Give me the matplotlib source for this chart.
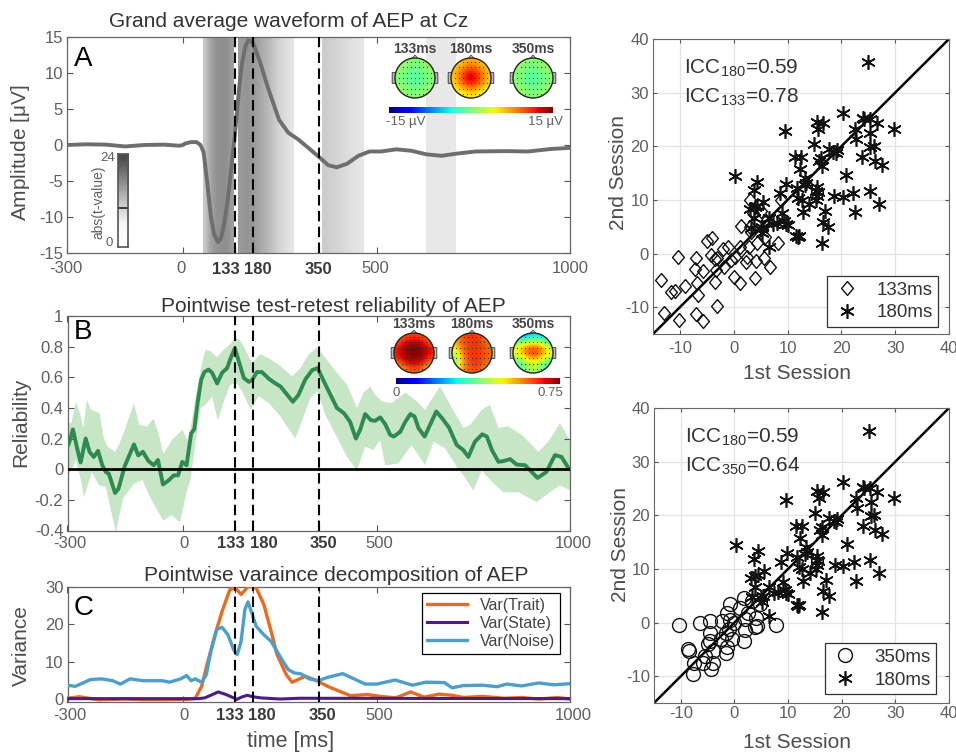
import numpy as np
import matplotlib
matplotlib.use('Agg')
import matplotlib.pyplot as plt
from matplotlib.patches import Circle, Polygon, FancyBboxPatch

plt.rcParams['font.family'] = ['Liberation Sans', 'DejaVu Sans']
plt.rcParams['mathtext.default'] = 'regular'
plt.rcParams['mathtext.fontset'] = 'custom'
plt.rcParams['mathtext.rm'] = 'Liberation Sans'
plt.rcParams['mathtext.it'] = 'Liberation Sans:italic'

W, H = 956, 752
TXT = '#4d4d4d'
TICK = '#5f5f5f'

# Panel A waveform
amp_t = [-300, -250, -200, -150, -100, -50, -10, 0, 5, 20, 35, 45, 53, 62, 72, 80, 90, 98, 106, 114, 121, 134, 145, 152,
         160, 168, 175, 182, 199, 219, 248, 272, 297, 326, 352, 375, 397, 424, 453, 482, 512, 551, 590, 629, 668, 707,
         756, 834, 892, 951, 1000]
amp_v = [0.0, 0.1, 0.05, -0.2, 0.0, 0.05, -0.1, 0.0, 0.2, 0.4, 0.4, 0.0, -1.0, -5.0, -10.0, -12.4, -13.5, -12.9, -11.0,
         -8.2, -5.0, 1.5, 8.0, 11.2, 13.5, 14.5, 14.5, 14.0, 11.5, 8.0, 3.5, 1.7, 0.8, -0.5, -1.7, -2.8, -3.1, -2.6,
         -1.5, -0.9, -0.9, -0.6, -0.8, -1.3, -1.5, -1.2, -0.9, -0.85, -0.9, -0.55, -0.4]

# gray bands, t start, t end, gray levels
band_edges = [(51, 131), (143, 287), (360, 466), (629, 704)]
band_grays = [[0.78, 0.70, 0.63, 0.59, 0.57, 0.56, 0.56, 0.58, 0.62],
              [0.60, 0.58, 0.60, 0.65, 0.70, 0.76, 0.82, 0.86, 0.90],
              [0.80, 0.82, 0.84, 0.86, 0.88, 0.90],
              [0.91, 0.91]]
tbar_grays = [0.30, 0.40, 0.50, 0.60, 0.70, 0.80, 0.88, 0.97, 0.98, 0.99]

# Panel B reliability
rel_t = [-300, -296, -286, -274, -266, -253, -243, -232, -221, -210, -201, -193, -177, -168, -152, -128, -117, -105,
         -91, -77, -66, -53, -38, -25, -14, -3, 8, 20, 28, 37, 46, 54, 65, 74, 87, 100, 113, 121, 133, 143, 156, 169,
         177, 190, 203, 221, 238, 251, 268, 283, 298, 315, 333, 347, 363, 380, 397, 415, 431, 446, 457, 470, 485, 496,
         509, 522, 535, 544, 561, 574, 587, 598, 608, 624, 638, 654, 669, 687, 707, 724, 737, 754, 773, 785, 798, 815,
         828, 845, 862, 884, 901, 916, 939, 961, 978, 997, 1000]
rel_v = [0.15, 0.17, 0.26, 0.125, 0.044, 0.20, 0.114, 0.08, 0.12, 0.026, -0.018, -0.03, -0.155, -0.127, 0.02, 0.162,
         0.09, 0.114, 0.055, 0.026, 0.06, -0.10, -0.072, -0.04, -0.04, 0.048, 0.026, 0.235, 0.26, 0.44, 0.585, 0.634,
         0.65, 0.63, 0.56, 0.63, 0.66, 0.717, 0.79, 0.706, 0.596, 0.57, 0.58, 0.634, 0.634, 0.59, 0.56, 0.54, 0.487,
         0.44, 0.487, 0.585, 0.647, 0.66, 0.575, 0.487, 0.40, 0.366, 0.31, 0.20, 0.257, 0.36, 0.32, 0.316, 0.338, 0.294,
         0.224, 0.213, 0.245, 0.31, 0.36, 0.344, 0.268, 0.213, 0.29, 0.377, 0.333, 0.272, 0.158, 0.125, 0.08, 0.18,
         0.228, 0.213, 0.125, 0.048, 0.053, 0.066, 0.03, 0.026, -0.018, -0.057, -0.018, 0.092, 0.08, 0.004, 0.0]
rel_up_t = [-300, -290, -278, -268, -259, -250, -240, -217, -207, -197, -177, -165, -152, -128, -115, -94, -77, -65,
            -52, -30, -3, 10, 18, 30, 46, 57, 70, 87, 104, 121, 134, 147, 160, 177, 199, 225, 251, 281, 303, 324, 347,
            367, 393, 423, 449, 466, 483, 496, 513, 539, 574, 604, 625, 664, 690, 724, 742, 772, 793, 815, 841, 875,
            918, 944, 974, 1000]
rel_up_v = [0.30, 0.30, 0.44, 0.366, 0.267, 0.454, 0.39, 0.366, 0.21, 0.147, 0.114, 0.17, 0.257, 0.43, 0.29, 0.28, 0.33,
            0.235, 0.10, 0.19, 0.257, 0.19, 0.26, 0.45, 0.67, 0.78, 0.77, 0.73, 0.78, 0.816, 0.86, 0.84, 0.78, 0.695,
            0.75, 0.717, 0.673, 0.607, 0.66, 0.75, 0.794, 0.728, 0.64, 0.553, 0.40, 0.50, 0.54, 0.487, 0.443, 0.432,
            0.50, 0.443, 0.388, 0.54, 0.42, 0.27, 0.29, 0.388, 0.42, 0.27, 0.28, 0.224, 0.114, 0.18, 0.30, 0.19]
rel_lo_t = [-300, -290, -278, -268, -257, -237, -219, -201, -175, -156, -128, -106, -89, -72, -52, -30, -9, 8, 18, 31,
            44, 57, 74, 89, 104, 121, 139, 156, 173, 195, 221, 251, 289, 306, 328, 347, 367, 397, 423, 449, 470, 491,
            509, 522, 556, 590, 625, 647, 677, 707, 724, 750, 772, 798, 828, 867, 914, 948, 974, 1000]
rel_lo_v = [-0.05, -0.007, 0.06, -0.04, -0.18, -0.018, -0.105, -0.116, -0.41, -0.19, -0.094, -0.07, -0.17, -0.25, -0.335,
            -0.30, -0.346, -0.15, -0.07, 0.17, 0.40, 0.42, 0.476, 0.32, 0.44, 0.55, 0.56, 0.487, 0.39, 0.476, 0.43,
            0.344, 0.20, 0.31, 0.465, 0.51, 0.355, 0.21, 0.08, -0.007, 0.147, 0.125, 0.19, 0.026, 0.037, 0.158, 0.026,
            0.18, 0.136, 0.015, -0.04, -0.138, -0.007, -0.083, -0.15, -0.15, -0.215, -0.15, -0.105, -0.138]

# Panel C variance
noise_t = [-300, -280, -260, -241, -212, -183, -163, -138, -104, -55, -36, -7, 8, 20, 30, 47, 59, 71, 86, 100, 115, 130,
           139, 149, 159, 167, 177, 188, 208, 227, 252, 271, 286, 305, 325, 349, 373, 412, 441, 470, 500, 548, 592, 627,
           675, 695, 724, 773, 812, 836, 875, 919, 958, 1000]
noise_v = [3.7, 3.4, 4.3, 5.2, 5.4, 4.9, 4.0, 5.4, 4.9, 4.9, 4.5, 5.4, 6.3, 4.9, 5.4, 4.5, 6.5, 12.8, 18.6, 19.2, 17.2,
           13.2, 11.9, 15.4, 24.0, 26.0, 23.0, 19.5, 17.2, 15.4, 11.0, 7.9, 7.0, 6.7, 5.4, 4.9, 5.8, 6.8, 5.4, 4.0, 4.0,
           5.1, 3.7, 4.5, 4.4, 3.0, 3.6, 3.7, 3.3, 4.0, 3.5, 4.3, 3.8, 4.1]
trait_t = [-300, -270, -250, -220, -150, -100, -50, 10, 30, 47, 61, 81, 100, 120, 134, 149, 168, 188, 208, 227, 242, 266,
           281, 296, 315, 345, 373, 403, 432, 475, 510, 549, 588, 622, 661, 695, 724, 773, 831, 875, 919, 968, 1000]
trait_v = [0.2, 0.6, 0.3, -0.2, 0.0, -0.2, -0.2, -0.1, 0.1, 3.4, 9.2, 17.0, 23.5, 29.3, 29.8, 28.0, 30.2, 29.8, 25.3,
           18.0, 11.9, 6.5, 4.5, 5.2, 6.1, 4.9, 3.4, 2.1, 0.9, 1.2, 0.7, 0.3, 1.9, 0.5, 1.3, 1.0, 0.4, 0.7, 0.2, 0.4,
           0.0, 0.4, 0.0]
state_t = [-300, 40, 55, 75, 90, 110, 130, 138, 150, 165, 180, 200, 250, 300, 1000]
state_v = [0.1, 0.1, 0.3, 1.2, 1.9, 1.2, 0.3, -0.1, 0.5, 1.0, 0.6, 0.3, 0.0, 0.2, 0.1]

# Scatter data
s180_x = [25, 20.3, 24, 25.3, 24.2, 26.6, 15.4, 16.6, 15.7, 29.7, 9.6, 22.6, 25.4, 22.8, 15, 25.4, 26, 17.7, 19.2, 18.5,
          19, 11.4, 12.5, 16.3, 23.9, 15.9, 16.4, 26.2, 27.6, 12.3, 20.9, 0.3, 4.3, 13.3, 13.5, 13.2, 9.8, 3.7, 15.4,
          11.7, 15.3, 15.6, 15.4, 18.7, 20.3, 22.2, 25.3, 8.6, 12, 12.6, 15.2, 14, 27, 3.1, 3.9, 4.4, 5.5, 12.8, 17,
          22.6, 9, 3.8, 6.5, 9.4, 9.7, 10, 8.1, 7.3, 16.6, 17.6, 5.3, 5, 3.3, 5.2, 11.6, 12.1, 11.9, 16.4, 6.5]
s180_y = [35.8, 26.2, 25.3, 25.1, 25, 24.3, 24.6, 24.4, 23.2, 23.2, 22.8, 23.3, 22.4, 21.4, 20.4, 19.9, 20.1, 19.5, 19.3,
          18.9, 18.8, 18, 18, 17.8, 18, 17.2, 16.3, 17.2, 16.5, 15.7, 14.6, 14.4, 13.3, 14, 13.2, 12.7, 13, 11.8, 12.5,
          12.2, 11.7, 11.5, 10.8, 10.7, 10.5, 11.3, 11.6, 11.2, 10.4, 9.9, 10, 9.2, 9.2, 8.3, 8.6, 8.9, 9.7, 7.8, 7.9,
          7.8, 7.5, 6.6, 6.7, 6, 5.6, 5.3, 5.7, 5.5, 5.8, 4.9, 5, 4.5, 4.7, 3.9, 3.2, 3.2, 3, 1.9, 1.3]
s133_x = [-10.3, -7.1, -13.6, -11.7, -10.9, -9, -13, -10.1, -7, -5.8, -3.2, -6.6, -6.9, -7.2, -5.8, -4.9, -4, -3.4,
          -3.2, -3.5, -3.3, -2, -1.8, -1, -0.5, 0.2, 0, 1.2, 1.1, 1.3, 2.3, 2.5, 4, 4.2, 4.3, 5.7, 6.8, 8.3, 5.9, 2.8,
          3.1, 8.7, 3.5, 3.2, 5, 6, 3, -4.3]
s133_y = [-0.6, -0.9, -5, -7.2, -7, -6, -11, -12.4, -11.2, -12.5, -9.8, -7.8, -5.5, -2.8, -3.3, 2.3, 2.9, -1, -0.8,
          -5.3, -3, 0.8, -2.5, 1.2, -1.2, -0.6, -4.4, -5.5, 1.2, 5.2, -1.5, -0.6, -4.6, -1.3, 1.9, -0.8, -2.6, 2, 3, 1.3,
          10, 10, 7.5, 4, 8, 6, 5, -0.2]
s350_x = [-10.4, -8.6, -8.5, -6.5, -4.5, -2.3, -1.4, -0.8, 1.8, 3.3, 4.8, 1, 2.5, 2, 4, 4.2, 3.8, 7.7, 2, 1.8, -0.5, -1,
          -1.5, 0, -0.9, -1.4, -1.5, -4.5, -4.5, -5, -4, -5.5, -4.4, -4, -5.8, -7.7, -7.5, -2.5]
s350_y = [-0.4, -5, -5.3, -0.1, 0.3, 0.2, 1.8, 3.5, 4.5, 4, 3.5, 2.8, 1.8, 0.7, 0.9, -0.7, -0.9, -0.5, -1.3, -3.4, -3,
          -1.2, -2, 0, 0.5, -4.5, -5.7, -2, -3.5, -4, -5.3, -6.3, -8.6, -7.6, -7.6, -9.6, -7.6, -3]

# Topographies, coarse grids (rows go top to bottom)
topo_a = {
    '133ms': [[1, 1, 0, 1, 1], [1, 0, -1, 0, 1], [0, -1, -2, -1, 0], [1, 0, -1, 0, 1], [1, 1, 0, 1, 1]],
    '180ms': [[5, 6, 7, 6, 5], [6, 9, 11, 9, 6], [6, 11, 15, 11, 6], [5, 8, 10, 8, 5], [3, 4, 5, 4, 3]],
    '350ms': [[1, 1, 0, 1, 1], [1, 0, -1, 0, 1], [0, -1, -2, -1, 0], [1, 0, -1, 0, 1], [1, 1, 0, 1, 1]],
}
topo_b = {
    '133ms': [[0.58, 0.62, 0.64, 0.62, 0.58], [0.64, 0.73, 0.75, 0.73, 0.64], [0.68, 0.75, 0.75, 0.75, 0.68],
              [0.62, 0.70, 0.73, 0.70, 0.60], [0.52, 0.58, 0.62, 0.58, 0.50]],
    '180ms': [[0.56, 0.63, 0.65, 0.63, 0.56], [0.52, 0.63, 0.64, 0.65, 0.60], [0.42, 0.62, 0.65, 0.63, 0.60],
              [0.36, 0.58, 0.65, 0.65, 0.60], [0.46, 0.58, 0.62, 0.62, 0.52]],
    '350ms': [[0.20, 0.22, 0.24, 0.26, 0.20], [0.45, 0.54, 0.58, 0.54, 0.40], [0.48, 0.60, 0.68, 0.62, 0.50],
              [0.35, 0.40, 0.50, 0.42, 0.34], [0.30, 0.36, 0.44, 0.36, 0.30]],
}
topo_times = ['133ms', '180ms', '350ms']
marker_times = [133, 180, 350]

diamond = [(0, 1), (0.85, 0), (0, -1), (-0.85, 0), (0, 1)]

fig = plt.figure(figsize=(W / 100, H / 100), dpi=100)


def px_axes(left, top, right, bottom, **kw):
    return fig.add_axes([left / W, 1 - bottom / H, (right - left) / W, (bottom - top) / H], **kw)


def px_text(x, y, s, **kw):
    kw.setdefault('ha', 'center')
    kw.setdefault('va', 'center')
    return fig.text(x / W, 1 - y / H, s, **kw)


def style_wave(ax, ylim, yticks, yticklabels, xlab_px):
    ax.set_xlim(-300, 1000)
    ax.set_ylim(*ylim)
    ax.set_xticks([-300, 0, 133, 180, 350, 500, 1000])
    ax.set_xticklabels([])
    ax.set_yticks(yticks)
    ax.set_yticklabels(yticklabels, fontsize=12, color=TICK)
    ax.tick_params(direction='in', length=4, width=0.8, color='#555555', top=True, right=True, pad=3)
    for s in ax.spines.values():
        s.set_color('#666666')
        s.set_linewidth(0.9)
    for t in marker_times:
        ax.axvline(t, color='black', lw=1.5, dashes=(5, 2.6), zorder=6)
    # tick labels sit at hand picked pixels in the source figure
    for lab, xp, bold in xlab_px:
        px_text(xp[0], xp[1], lab, fontsize=12, fontweight='bold' if bold else 'normal',
                color='#3a3a3a' if bold else TICK)


def head(cx, cy, r, grid, vmin, vmax):
    a = px_axes(cx - 1.35 * r, cy - 1.35 * r, cx + 1.35 * r, cy + 1.35 * r)
    a.set_xlim(-1.35, 1.35)
    a.set_ylim(-1.35, 1.35)
    a.axis('off')
    a.set_zorder(10)
    a.add_patch(FancyBboxPatch((-1.12, -0.25), 0.15, 0.5, boxstyle='round,pad=0.02', fc='#bbbbbb', ec='#444444', lw=0.7))
    a.add_patch(FancyBboxPatch((0.97, -0.25), 0.15, 0.5, boxstyle='round,pad=0.02', fc='#bbbbbb', ec='#444444', lw=0.7))
    a.add_patch(Polygon([[-0.14, 0.98], [0, 1.14], [0.14, 0.98]], fc='white', ec='#444444', lw=0.7))
    im = a.imshow(grid, cmap='jet', vmin=vmin, vmax=vmax, extent=(-1, 1, -1, 1), interpolation='bicubic', zorder=2)
    a.set_xlim(-1.35, 1.35)
    a.set_ylim(-1.35, 1.35)
    clip = Circle((0, 0), 1, transform=a.transData)
    im.set_clip_path(clip)
    a.add_patch(Circle((0, 0), 1, fc='none', ec='#222222', lw=1.0, zorder=3))
    gx, gy = np.meshgrid(np.linspace(-0.8, 0.8, 9), np.linspace(-0.8, 0.8, 7))
    keep = gx ** 2 + gy ** 2 < 0.85
    a.plot(gx[keep], gy[keep], ls='none', marker='o', ms=0.9, mew=0, color='#333333', zorder=4)


def jet_bar(left, top, right, bottom):
    a = px_axes(left, top, right, bottom)
    a.imshow(np.linspace(0, 1, 256)[None, :], cmap='jet', aspect='auto')
    a.axis('off')
    a.set_zorder(10)


# ---- Panel A
ax_a = px_axes(67, 37, 570, 253)
for (t0, t1), g in zip(band_edges, band_grays):
    ax_a.imshow(np.array(g)[None, :], cmap='gray', vmin=0, vmax=1, aspect='auto', extent=(t0, t1, -15, 15),
                interpolation='bilinear', zorder=1)
ax_a.plot(amp_t, amp_v, color='#6e6e6e', lw=2.8, zorder=5, solid_capstyle='round')
style_wave(ax_a, (-15, 15), [-15, -10, -5, 0, 5, 10, 15], ['-15', '-10', '-5', '0', '5', '10', '15'],
           [('-300', (66, 268), False), ('0', (181, 268), False), ('133', (226, 269), True), ('180', (258, 269), True),
            ('350', (318, 269), True), ('500', (375, 268), False), ('1000', (570, 268), False)])
ax_a.set_title('Grand average waveform of AEP at Cz', fontsize=15, color='#333333', x=0.44, pad=7)
ax_a.text(0.013, 0.96, 'A', transform=ax_a.transAxes, fontsize=20, color='black', va='top')
px_text(21, 153, r'Amplitude [$\mu$V]', rotation=90, fontsize=15, color=TXT)

tb = px_axes(118, 154, 128, 247)
tb.imshow(np.array(tbar_grays)[:, None], cmap='gray', vmin=0, vmax=1, aspect='auto', extent=(0, 1, 0, 24),
          interpolation='bilinear')
tb.axhline(10.1, color='#222222', lw=1.2)
tb.set_xticks([])
tb.set_yticks([])
for s in tb.spines.values():
    s.set_color('#555555')
    s.set_linewidth(1.2)
tb.set_zorder(9)
px_text(108, 158, '24', fontsize=9.5, color=TICK)
px_text(109, 243, '0', fontsize=9.5, color=TICK)
px_text(98, 202, 'abs(t-value)', rotation=90, fontsize=10, color=TICK)

for name, cx in zip(topo_times, [415, 471, 533]):
    head(cx, 78, 20, topo_a[name], -15, 15)
    px_text(cx, 49, name, fontsize=10, fontweight='bold', color='#444444', zorder=12)
jet_bar(389, 107, 553, 113)
px_text(406, 122, '-15 µV', fontsize=9.5, color=TICK, zorder=12)
px_text(546, 122, '15 µV', fontsize=9.5, color=TICK, zorder=12)

# ---- Panel B
ax_b = px_axes(67.5, 316, 570, 530.5)
ax_b.fill(np.concatenate([rel_up_t, rel_lo_t[::-1]]), np.concatenate([rel_up_v, rel_lo_v[::-1]]), color='#c6e6c6',
          lw=0, zorder=1)
ax_b.plot(rel_t, rel_v, color='#2e8b4f', lw=2.8, zorder=4)
ax_b.axhline(0, color='black', lw=2, zorder=5)
style_wave(ax_b, (-0.4, 1), [-0.4, -0.2, 0, 0.2, 0.4, 0.6, 0.8, 1], ['-0.4', '-0.2', '0', '0.2', '0.4', '0.6', '0.8', '1'],
           [('-300', (70, 543), False), ('0', (184, 543), False), ('133', (231, 544), True), ('180', (264, 544), True),
            ('350', (323, 544), True), ('500', (379, 543), False), ('1000', (573, 543), False)])
ax_b.set_title('Pointwise test-retest reliability of AEP', fontsize=15, color='#333333', x=0.53, pad=2)
ax_b.text(0.013, 0.985, 'B', transform=ax_b.transAxes, fontsize=20, color='black', va='top')
px_text(21, 422, 'Reliability', rotation=90, fontsize=15, color=TXT)

for name, cx in zip(topo_times, [414, 472, 533]):
    head(cx, 353, 20, topo_b[name], 0, 0.75)
    px_text(cx, 324, name, fontsize=10, fontweight='bold', color='#444444', zorder=12)
jet_bar(396, 378, 560, 384)
px_text(396, 393, '0', fontsize=9.5, color=TICK, zorder=12)
px_text(550, 393, '0.75', fontsize=9.5, color=TICK, zorder=12)

# ---- Panel C
ax_c = px_axes(67.5, 587, 570, 702)
l_t, = ax_c.plot(trait_t, trait_v, color='#ec6a1e', lw=2.4, zorder=3, label='Var(Trait)')
l_s, = ax_c.plot(state_t, state_v, color='#4b1a8c', lw=2.2, zorder=4, label='Var(State)')
l_n, = ax_c.plot(noise_t, noise_v, color='#4a9fd0', lw=2.4, zorder=5, label='Var(Noise)')
style_wave(ax_c, (-0.8, 30), [0, 10, 20, 30], ['0', '10', '20', '30'],
           [('-300', (70, 715), False), ('0', (184, 715), False), ('133', (230, 716), True), ('180', (262, 716), True),
            ('350', (322, 716), True), ('500', (379, 715), False), ('1000', (573, 715), False)])
ax_c.set_title('Pointwise varaince decomposition of AEP', fontsize=15, color='#333333', x=0.535, pad=4)
ax_c.text(0.013, 0.93, 'C', transform=ax_c.transAxes, fontsize=20, color='black', va='top')
px_text(21, 646, 'Variance', rotation=90, fontsize=15, color=TXT)
px_text(291, 741, 'time [ms]', fontsize=15.5, color=TXT)
leg = ax_c.legend(handles=[l_t, l_s, l_n], loc='upper right', bbox_to_anchor=(0.98, 0.95), fontsize=11.5, fancybox=False,
                  edgecolor='black', framealpha=1, borderaxespad=0, handlelength=2.5, labelspacing=0.2, borderpad=0.3,
                  labelcolor='#444444')
leg.get_frame().set_linewidth(0.9)
leg.set_zorder(8)


# ---- Scatter panels
def style_scatter(ax, label_a, label_b, xpad):
    ax.set_xlim(-15, 40)
    ax.set_ylim(-15, 40)
    ax.plot([-15, 40], [-15, 40], color='black', lw=1.8, zorder=2)
    ax.set_xticks([-10, 0, 10, 20, 30, 40])
    ax.set_yticks([-10, 0, 10, 20, 30, 40])
    ax.set_xticklabels(['-10', '0', '10', '20', '30', '40'], fontsize=12, color=TICK)
    ax.set_yticklabels(['-10', '0', '10', '20', '30', '40'], fontsize=12, color=TICK)
    ax.grid(True, color='#e4e4e4', lw=0.9)
    ax.set_axisbelow(True)
    ax.tick_params(direction='in', length=3, width=0.8, color='#555555', top=True, right=True)
    ax.tick_params(axis='x', pad=xpad)
    ax.tick_params(axis='y', pad=3)
    for s in ax.spines.values():
        s.set_color('#666666')
    ax.text(0.105, 0.935, label_a, transform=ax.transAxes, fontsize=15, color='#333333', va='top')
    ax.text(0.105, 0.84, label_b, transform=ax.transAxes, fontsize=15, color='#333333', va='top')


def draw_star(ax, x, y):
    return ax.plot(x, y, ls='none', marker=(6, 2, 0), ms=10.5, mew=1.2, color='#111111', zorder=4, label='180ms')[0]


ax_s1 = px_axes(653, 39, 949, 334)
p1, = ax_s1.plot(s133_x, s133_y, ls='none', marker=diamond, ms=10, mfc='none', mec='#111111', mew=1.0, zorder=3,
                 label='133ms')
p2 = draw_star(ax_s1, s180_x, s180_y)
style_scatter(ax_s1, 'ICC$_{180}$=0.59', 'ICC$_{133}$=0.78', 5)
px_text(797, 373, '1st Session', fontsize=15, color=TXT)
px_text(619, 172, '2nd Session', rotation=90, fontsize=15, color=TXT)
leg1 = ax_s1.legend(handles=[p1, p2], loc='lower right', bbox_to_anchor=(0.963, 0.024), fontsize=13.5, fancybox=False,
                    edgecolor='#333333', framealpha=1, borderaxespad=0, labelcolor='#333333', labelspacing=0.3,
                    handlelength=1.5, handletextpad=0.8, borderpad=0.3)
leg1.get_frame().set_linewidth(0.9)

ax_s2 = px_axes(654, 408, 949, 703)
p3, = ax_s2.plot(s350_x, s350_y, ls='none', marker='o', ms=10, mfc='none', mec='#111111', mew=1.0, zorder=3,
                 label='350ms')
p4 = draw_star(ax_s2, s180_x, s180_y)
style_scatter(ax_s2, 'ICC$_{180}$=0.59', 'ICC$_{350}$=0.64', 2)
px_text(797, 742, '1st Session', fontsize=15, color=TXT)
px_text(620, 545, '2nd Session', rotation=90, fontsize=15, color=TXT)
leg2 = ax_s2.legend(handles=[p3, p4], loc='lower right', bbox_to_anchor=(0.956, 0.03), fontsize=13.5, fancybox=False,
                    edgecolor='#333333', framealpha=1, borderaxespad=0, labelcolor='#333333', labelspacing=0.3,
                    handlelength=1.5, handletextpad=0.8, borderpad=0.3)
leg2.get_frame().set_linewidth(0.9)

fig.savefig('out.png', dpi=100)
